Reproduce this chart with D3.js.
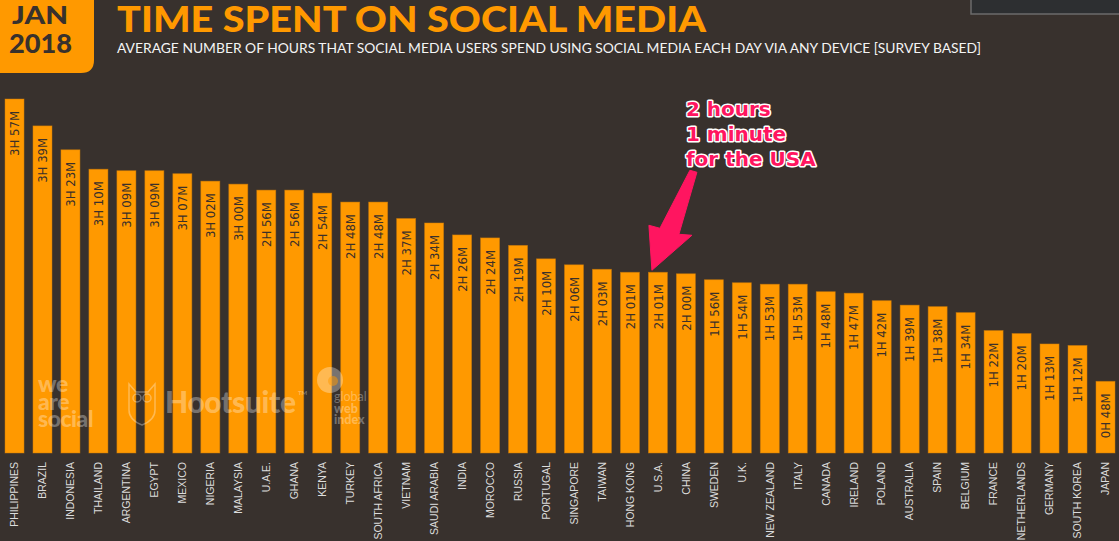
<!DOCTYPE html>
<html>
<head>
<meta charset="UTF-8">
<title>Time Spent on Social Media</title>
<script src="https://cdn.jsdelivr.net/npm/d3@7/dist/d3.min.js"></script>
<style>
  html, body { margin: 0; padding: 0; background: #38312d; overflow: hidden; }
  svg { display: block; }
</style>
</head>
<body>
<script>
  // countries, ordered as in the chart
  const countries = ["PHILIPPINES", "BRAZIL", "INDONESIA", "THAILAND", "ARGENTINA", "EGYPT", "MEXICO",
    "NIGERIA", "MALAYSIA", "U.A.E.", "GHANA", "KENYA", "TURKEY", "SOUTH AFRICA", "VIETNAM",
    "SAUDI ARABIA", "INDIA", "MOROCCO", "RUSSIA", "PORTUGAL", "SINGAPORE", "TAIWAN", "HONG KONG",
    "U.S.A.", "CHINA", "SWEDEN", "U.K.", "NEW ZEALAND", "ITALY", "CANADA", "IRELAND", "POLAND",
    "AUSTRALIA", "SPAIN", "BELGIUM", "FRANCE", "NETHERLANDS", "GERMANY", "SOUTH KOREA", "JAPAN"];

  // daily time spent, in minutes
  const minutes = [237, 219, 203, 190, 189, 189, 187, 182, 180, 176, 176, 174, 168, 168, 157,
    154, 146, 144, 139, 130, 126, 123, 121, 121, 120, 116, 114, 113, 113, 108, 107, 102,
    99, 98, 94, 82, 80, 73, 72, 48];

  const highlight = "U.S.A.";
  const noteLines = ["2 hours", "1 minute", "for the USA"];

  const W = 1119, H = 541;
  const bg = "#38312d", orange = "#ff9900";

  const svg = d3.select("body").append("svg")
    .attr("width", W)
    .attr("height", H);

  svg.append("rect").attr("width", W).attr("height", H).attr("fill", bg);

  //
  // scales
  //
  const x = d3.scaleBand()
    .domain(countries)
    .range([5, 1115])
    .paddingInner(0.32)
    .paddingOuter(0);

  const y = d3.scaleLinear()
    .domain([0, d3.max(minutes)])
    .range([453, 99]);

  const data = countries.map((c, i) => ({ country: c, mins: minutes[i] }));

  function fmt(m) {
    const h = Math.floor(m / 60), mm = m % 60;
    return h + "H " + (mm < 10 ? "0" : "") + mm + "M";
  }

  //
  // bars
  //
  svg.selectAll("rect.bar")
    .data(data)
    .enter()
    .append("rect")
    .attr("class", "bar")
    .attr("x", d => x(d.country))
    .attr("y", d => y(d.mins))
    .attr("width", x.bandwidth())
    .attr("height", d => y(0) - y(d.mins))
    .attr("fill", orange)
    .attr("stroke", "#c97a08")
    .attr("stroke-opacity", 0.6)
    .attr("stroke-width", 0.8);

  // value labels, rotated inside the bars
  svg.selectAll("text.val")
    .data(data)
    .enter()
    .append("text")
    .attr("class", "val")
    .attr("transform", d => "translate(" + (x(d.country) + x.bandwidth() / 2) + "," + (y(d.mins) + 12) + ") rotate(-90)")
    .attr("dy", "0.36em")
    .attr("text-anchor", "end")
    .attr("fill", "#3b302a")
    .style("font-family", "'Liberation Sans Narrow', 'DejaVu Sans Condensed', 'Roboto Condensed', sans-serif")
    .style("font-stretch", "condensed")
    .style("font-size", "13px")
    .text(d => fmt(d.mins));

  //
  // category axis
  //
  const xAxis = d3.axisBottom(x).tickSize(0);
  const gx = svg.append("g")
    .attr("transform", "translate(0,459)")
    .call(xAxis);
  gx.select(".domain").remove();
  gx.selectAll("text")
    .attr("transform", "rotate(-90)")
    .attr("x", -3)
    .attr("y", 0)
    .attr("dy", "0.36em")
    .style("text-anchor", "end")
    .style("font-family", "'Liberation Sans', Arial, sans-serif")
    .style("font-size", "10.5px")
    .attr("fill", "#dcdcdc");

  //
  // watermarks
  //
  const wm = svg.append("g")
    .attr("fill", "#ffffff")
    .attr("fill-opacity", 0.32)
    .style("font-family", "Lato, sans-serif")
    .style("font-weight", 900);

  const was = wm.append("text").style("font-size", "23px").attr("letter-spacing", "-0.5px");
  ["we", "are", "social"].forEach((t, i) => {
    was.append("tspan").attr("x", 38).attr("y", 392 + i * 17.5).text(t);
  });

  // owl outline
  const owl = wm.append("g")
    .attr("fill", "none")
    .attr("stroke", "#ffffff")
    .attr("stroke-opacity", 0.32)
    .attr("stroke-width", 1.5);
  owl.append("path")
    .attr("d", "M129,384 L129,410 Q129,420 142,425 Q155,420 155,410 L155,384 L148,392 L136,392 Z");
  owl.append("circle").attr("cx", 137).attr("cy", 398).attr("r", 4);
  owl.append("circle").attr("cx", 147).attr("cy", 398).attr("r", 4);

  wm.append("text").attr("x", 165).attr("y", 413)
    .style("font-size", "30px").attr("textLength", 131).text("Hootsuite");
  wm.append("text").attr("x", 298).attr("y", 395).style("font-size", "6px").text("TM");

  // gwi mark
  wm.append("circle").attr("cx", 330).attr("cy", 380).attr("r", 13);
  wm.append("circle").attr("cx", 333).attr("cy", 381).attr("r", 5).attr("fill", orange).attr("fill-opacity", 0.5);
  const gwi = wm.append("text").style("font-size", "12.5px");
  ["global", "web", "index"].forEach((t, i) => {
    gwi.append("tspan").attr("x", 334).attr("y", 401 + i * 11.5)
      .style("font-weight", i == 0 ? 400 : 900).text(t);
  });

  //
  // header
  //
  svg.append("path")
    .attr("d", "M-5,-5 L94,-5 L94,60 Q94,73 81,73 L-5,73 Z")
    .attr("fill", orange);

  svg.append("text").attr("x", 40).attr("y", 24)
    .attr("text-anchor", "middle")
    .attr("fill", bg)
    .style("font-family", "Lato, sans-serif").style("font-weight", 900).style("font-size", "25px")
    .attr("textLength", 56)
    .attr("lengthAdjust", "spacingAndGlyphs")
    .text("JAN");
  svg.append("text").attr("x", 40.5).attr("y", 53)
    .attr("text-anchor", "middle")
    .attr("fill", bg)
    .style("font-family", "Lato, sans-serif").style("font-weight", 900).style("font-size", "27px")
    .attr("textLength", 63)
    .attr("lengthAdjust", "spacingAndGlyphs")
    .text("2018");

  svg.append("text").attr("x", 117).attr("y", 32)
    .attr("fill", orange)
    .style("font-family", "Lato, sans-serif").style("font-weight", 900).style("font-size", "36px")
    .attr("textLength", 589)
    .attr("lengthAdjust", "spacingAndGlyphs")
    .text("TIME SPENT ON SOCIAL MEDIA");

  svg.append("text").attr("x", 117).attr("y", 53)
    .attr("fill", "#f4f4f4")
    .style("font-family", "Lato, sans-serif").style("font-weight", 400).style("font-size", "14px")
    .attr("textLength", 864)
    .attr("lengthAdjust", "spacingAndGlyphs")
    .text("AVERAGE NUMBER OF HOURS THAT SOCIAL MEDIA USERS SPEND USING SOCIAL MEDIA EACH DAY VIA ANY DEVICE [SURVEY BASED]");

  // box in the top right corner
  svg.append("rect").attr("x", 971).attr("y", -3).attr("width", 160).attr("height", 17)
    .attr("fill", "#2d2f31").attr("stroke", "#6b6b6b").attr("stroke-width", 1.5);

  //
  // annotation for the USA
  //
  const usa = data.find(d => d.country == highlight);
  const tx = x(usa.country) + x.bandwidth() / 2 - 6;
  const ty = y(usa.mins) - 2;
  const pink = "#ff1560";

  svg.append("path")
    .attr("d", "M" + tx + "," + ty +
      " l-3,-45 l11,3 l30,-58 l7,2 l-18,62 l13,1 Z")
    .attr("fill", pink)
    .attr("stroke", pink)
    .attr("stroke-linejoin", "round")
    .attr("stroke-width", 1);

  const note = svg.append("g")
    .style("font-family", "'DejaVu Sans', sans-serif")
    .style("font-weight", "bold")
    .style("font-size", "20px");
  noteLines.forEach((t, i) => {
    note.append("text")
      .attr("x", tx + 34)
      .attr("y", ty - 154 + i * 25)
      .attr("fill", pink)
      .attr("stroke", "#ffffff")
      .attr("stroke-width", 3)
      .attr("stroke-linejoin", "round")
      .style("paint-order", "stroke")
      .text(t);
  });
</script>
</body>
</html>
